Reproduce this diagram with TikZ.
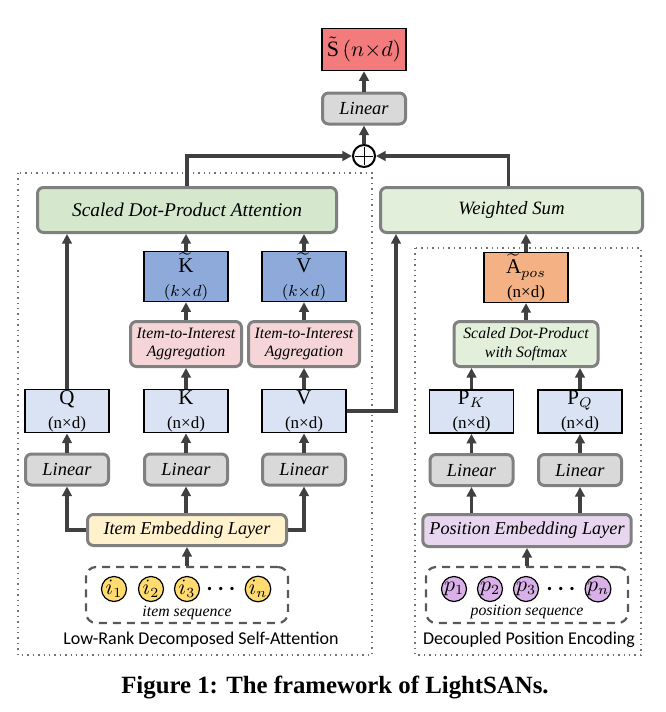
\documentclass[tikz,border=0pt]{standalone}
\usepackage{amsmath}
\usepackage{fontspec}
\setmainfont{Liberation Serif}
\setsansfont{Carlito}
\usetikzlibrary{arrows.meta}
\definecolor{arrgray}{HTML}{404040}
\definecolor{bordgray}{HTML}{808080}
\definecolor{outred}{HTML}{F37B7B}
\definecolor{lingray}{HTML}{D9D9D9}
\definecolor{attgreen}{HTML}{D5E8CE}
\definecolor{sumgreen}{HTML}{E2EFDA}
\definecolor{tilblue}{HTML}{8EAADB}
\definecolor{matblue}{HTML}{DAE3F3}
\definecolor{aggpink}{HTML}{F5D5D7}
\definecolor{posorange}{HTML}{F4B183}
\definecolor{embyellow}{HTML}{FFF2CC}
\definecolor{embpurple}{HTML}{E8D6F0}
\definecolor{itemyellow}{HTML}{FFDB70}
\definecolor{pospurple}{HTML}{D9B0E8}
\tikzstyle{rbox}=[draw=bordgray, line width=1.5pt, rounded corners=3pt, align=center, font=\fontsize{9.2}{11}\selectfont\itshape]
\tikzstyle{linbox}=[rbox, fill=lingray, minimum width=41.5pt, minimum height=15.5pt]
\tikzstyle{twobox}=[rbox, minimum height=22.5pt, inner sep=1pt, font=\fontsize{7.9}{9.2}\selectfont\itshape]
\tikzstyle{mbox}=[draw=black, line width=0.7pt, minimum width=42pt, minimum height=21pt, inner sep=0.5pt, align=center]
\tikzstyle{icirc}=[circle, draw=black, line width=0.6pt, minimum size=12.5pt, inner sep=0pt, font=\fontsize{10.5}{10.5}\selectfont]
\tikzstyle{seqbox}=[draw=black!65, line width=1.1pt, dash pattern=on 4pt off 3pt, rounded corners=5pt, minimum width=101pt, minimum height=28pt]
\tikzstyle{dotbox}=[draw=black!55, line width=0.7pt, dotted]
\tikzstyle{arr}=[-{Triangle[length=4.8pt,width=4.8pt]}, line width=1.6pt, draw=arrgray]
\newcommand{\mlab}[2]{{\fontsize{10.5}{11}\selectfont #1}\\[0pt]{\fontsize{8.5}{10}\selectfont #2}}

\begin{document}
\begin{tikzpicture}[x=0.5pt, y=-0.5pt]
    \useasboundingbox (0,0) rectangle (665,712);
    % output part
    \node[mbox, fill=outred, font=\fontsize{11}{11}\selectfont] (Stil) at (364,49.5) {$\tilde{\mathrm{S}}\,(n{\times}d)$};
    \node[linbox] (lin0) at (364,108.5) {Linear};
    \node[circle, draw=black, fill=white, line width=1pt, minimum size=11pt, inner sep=0pt,
      path picture={\draw[line width=0.5pt] ([yshift=-1.2pt]path picture bounding box.north) -- ([yshift=1.2pt]path picture bounding box.south);
        \draw[line width=0.5pt] ([xshift=1.2pt]path picture bounding box.west) -- ([xshift=-1.2pt]path picture bounding box.east);}] (plus) at (364,156) {};
    \node[rbox, fill=attgreen, minimum width=149.5pt, minimum height=22.5pt, font=\fontsize{9.7}{11}\selectfont\itshape] (sdpa) at (187,210) {Scaled Dot-Product Attention};
    \node[rbox, fill=sumgreen, minimum width=131pt, minimum height=22.5pt, font=\fontsize{9.4}{11}\selectfont\itshape] (wsum) at (511.5,210) {Weighted Sum};

    % low-rank decomposed self-attention
    \node[mbox, fill=tilblue] (Ktil) at (186,276.5) {\mlab{$\widetilde{\mathrm{K}}$}{$(k{\times}d)$}};
    \node[mbox, fill=tilblue] (Vtil) at (304,276.5) {\mlab{$\widetilde{\mathrm{V}}$}{$(k{\times}d)$}};
    \node[twobox, fill=aggpink, minimum width=55.5pt] (aggK) at (186,344) {Item-to-Interest\\Aggregation};
    \node[twobox, fill=aggpink, minimum width=55.5pt] (aggV) at (304,344) {Item-to-Interest\\Aggregation};
    \node[mbox, fill=matblue] (Q) at (67,411) {\mlab{Q}{(n×d)}};
    \node[mbox, fill=matblue] (K) at (186,411) {\mlab{K}{(n×d)}};
    \node[mbox, fill=matblue] (V) at (304,411) {\mlab{V}{(n×d)}};
    \node[linbox] (linQ) at (67,469.5) {Linear};
    \node[linbox] (linK) at (186,469.5) {Linear};
    \node[linbox] (linV) at (304,469.5) {Linear};
    \node[rbox, fill=embyellow, minimum width=99.5pt, minimum height=15.5pt, font=\fontsize{9.1}{11}\selectfont\itshape] (iel) at (187,530) {Item Embedding Layer};
    \node[seqbox] (iseq) at (187,595) {};
    \node[icirc, fill=itemyellow] (i1) at (114,589) {$i_1$};
    \node[icirc, fill=itemyellow] (i2) at (151,589) {$i_2$};
    \node[icirc, fill=itemyellow] (i3) at (187,589) {$i_3$};
    \node[font=\fontsize{11}{11}\selectfont] (idots) at (223,589) {$\boldsymbol{\cdots}$};
    \node[icirc, fill=itemyellow] (in) at (258,589) {$i_n$};
    \node[font=\fontsize{7.9}{9}\selectfont\itshape] (iseqlab) at (187,613) {item sequence};
    \node[font=\sffamily\fontsize{9}{10}\selectfont] (lrlab) at (201,640) {Low-Rank Decomposed Self-Attention};

    % decoupled position encoding
    \node[mbox, fill=posorange] (Apos) at (526,277.5) {\mlab{$\widetilde{\mathrm{A}}_{pos}$}{(n×d)}};
    \node[twobox, fill=sumgreen, minimum width=72pt] (sdps) at (526,344) {Scaled Dot-Product\\with Softmax};
    \node[mbox, fill=matblue] (PK) at (471.5,411.5) {\mlab{$\mathrm{P}_K$}{(n×d)}};
    \node[mbox, fill=matblue] (PQ) at (580,411.5) {\mlab{$\mathrm{P}_Q$}{(n×d)}};
    \node[linbox] (linPK) at (471.5,470) {Linear};
    \node[linbox] (linPQ) at (580,470) {Linear};
    \node[rbox, fill=embpurple, minimum width=100.5pt, minimum height=16pt, font=\fontsize{9.1}{11}\selectfont\itshape] (pel) at (527,530.5) {Position Embedding Layer};
    \node[seqbox] (pseq) at (527,595) {};
    \node[icirc, fill=pospurple] (p1) at (454,589) {$p_1$};
    \node[icirc, fill=pospurple] (p2) at (490,589) {$p_2$};
    \node[icirc, fill=pospurple] (p3) at (526,589) {$p_3$};
    \node[font=\fontsize{11}{11}\selectfont] (pdots) at (563,589) {$\boldsymbol{\cdots}$};
    \node[icirc, fill=pospurple] (pn) at (598,589) {$p_n$};
    \node[font=\fontsize{7.9}{9}\selectfont\itshape] (pseqlab) at (527,612) {position sequence};
    \node[font=\sffamily\fontsize{9}{10}\selectfont] (dplab) at (529,640) {Decoupled Position Encoding};

    \node[font=\bfseries\fontsize{12.4}{14}\selectfont] (cap) at (335,687) {Figure 1: The framework of LightSANs.};

    \draw[dotbox] (18,173) rectangle (372,655);
    \draw[dotbox] (415,248) rectangle (641,655);

    \foreach \from/\to in {lin0/Stil, plus/lin0, linQ/Q, linK/K, K/aggK, aggK/Ktil,
          linV/V, V/aggV, aggV/Vtil, linPK/PK, linPQ/PQ, sdps/Apos, iseq/iel, pseq/pel}
      \draw[arr] (\from) -- (\to);
    \foreach \n in {Q, Ktil, Vtil}
      \draw[arr] (\n) -- (\n |- sdpa.south);
    \foreach \n in {PK, PQ}
      \draw[arr] (\n) -- (\n |- sdps.south);
    \foreach \n in {linK}
      \draw[arr] (\n |- iel.north) -- (\n);
    \foreach \n in {linPK, linPQ}
      \draw[arr] (\n |- pel.north) -- (\n);
    \draw[arr] (Apos) -- (Apos |- wsum.south);
    \draw[arr] (iel.west) -| (linQ);
    \draw[arr] (iel.east) -| (linV);
    \coordinate (vin) at ([xshift=8.5pt]wsum.south west);
    \draw[arr] (V.east) -| (vin);
    \draw[arr] (sdpa.north) |- (plus.west);
    \draw[arr] ([xshift=-1.5pt]wsum.north) |- (plus.east);
\end{tikzpicture}
\end{document}
